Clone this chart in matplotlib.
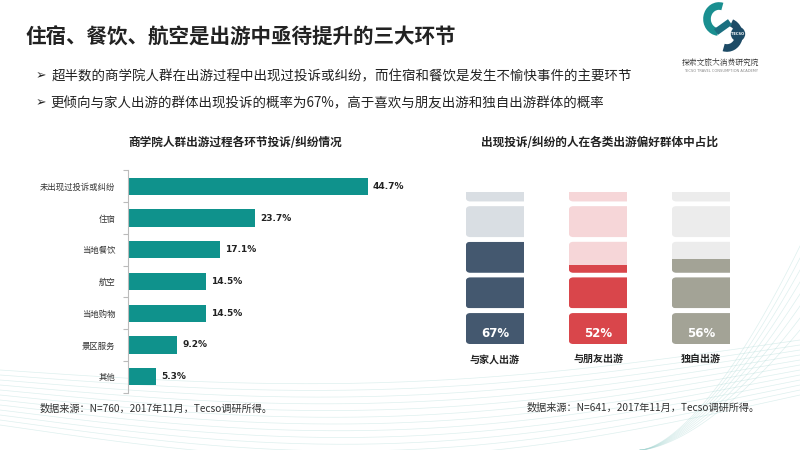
import numpy as np
import matplotlib
matplotlib.use("Agg")
import matplotlib.pyplot as plt
from matplotlib.patches import FancyBboxPatch, Rectangle, Arc, Circle
from matplotlib.transforms import Bbox, TransformedBbox

plt.rcParams['font.family'] = ['Noto Sans CJK SC', 'DejaVu Sans']

# ---------------- data ----------------
title = "住宿、餐饮、航空是出游中亟待提升的三大环节"
bullet1 = "超半数的商学院人群在出游过程中出现过投诉或纠纷，而住宿和餐饮是发生不愉快事件的主要环节"
bullet2 = "更倾向与家人出游的群体出现投诉的概率为67%，高于喜欢与朋友出游和独自出游群体的概率"

left_title = "商学院人群出游过程各环节投诉/纠纷情况"
categories = ["未出现过投诉或纠纷", "住宿", "当地餐饮", "航空", "当地购物", "景区服务", "其他"]
values = [44.7, 23.7, 17.1, 14.5, 14.5, 9.2, 5.3]
left_source = "数据来源：N=760，2017年11月，Tecso调研所得。"

right_title = "出现投诉/纠纷的人在各类出游偏好群体中占比"
groups = ["与家人出游", "与朋友出游", "独自出游"]
group_pct = [67, 52, 56]
group_dark = ["#44586f", "#d9464b", "#a3a396"]
group_light = ["#d9dee3", "#f6d6d8", "#ececec"]
right_source = "数据来源：N=641，2017年11月，Tecso调研所得。"

W, H = 800, 450
fig = plt.figure(figsize=(8, 4.5), dpi=100)
fig.patch.set_facecolor("white")

def fx(px):
    return px / W

def fy(py):
    return 1 - py / H

# ---------------- decorative background curves ----------------
bg = fig.add_axes([0, 0, 1, 1], zorder=-5)
bg.set_xlim(0, W)
bg.set_ylim(H, 0)
bg.axis("off")
t = np.linspace(0, 1, 200)
for k in range(12):
    xs = t * 800
    ys = 370 + k * 5 + 45 * np.sin(np.pi * t) * (0.6 + 0.04 * k) - 30 * t
    bg.plot(xs, ys, color="#9fd3cf", lw=0.5, alpha=0.35)
for k in range(8):
    s = np.linspace(0, 1, 100)
    xs = 640 + 160 * s
    ys = 450 - (s ** 1.6) * (120 + 12 * k)
    bg.plot(xs, ys, color="#9fd3cf", lw=0.5, alpha=0.35)

# ---------------- header ----------------
fig.text(fx(25), fy(37), title, fontsize=14.8, fontweight="bold", color="#222222",
         va="center", ha="left")
fig.text(fx(36), fy(76), "➢", fontsize=9, color="#222222", va="center", ha="left",
         family=["DejaVu Sans"])
fig.text(fx(52), fy(76), bullet1, fontsize=9.7, color="#222222", va="center", ha="left")
fig.text(fx(36), fy(103), "➢", fontsize=9, color="#222222", va="center", ha="left",
         family=["DejaVu Sans"])
fig.text(fx(50), fy(103), bullet2, fontsize=9.7, color="#222222", va="center", ha="left")

# ---------------- logo ----------------
lx0, lx1, ly0, ly1 = 695, 752, 0, 57
lg = fig.add_axes([fx(lx0), fy(ly1), (lx1 - lx0) / W, (ly1 - ly0) / H])
lg.set_xlim(lx0, lx1)
lg.set_ylim(0, ly1 - ly0)
lg.axis("off")
lg.add_patch(Arc((719, 57 - 19), 24, 26, theta1=75, theta2=265, lw=5.5, color="#1a8f90"))
lg.add_patch(Arc((727, 57 - 35), 24, 26, theta1=-105, theta2=70, lw=5.5, color="#1d4b66"))
lg.plot([716, 730], [57 - 32, 57 - 22], color="#1a6f80", lw=5, solid_capstyle="butt")
lg.add_patch(Circle((738, 57 - 34), 6.5, color="#1d4b66"))
lg.text(738, 57 - 34, "TECSO", fontsize=2.6, color="white", ha="center", va="center",
        family=["DejaVu Sans"], fontweight="bold")
fig.text(fx(721), fy(63), "探索文旅大消费研究院", fontsize=5.6, color="#333333",
         ha="center", va="center", family=["Noto Serif CJK SC", "Noto Sans CJK SC"])
fig.text(fx(721), fy(71), "TECSO TRAVEL CONSUMPTION ACADEMY", fontsize=2.6,
         color="#888888", ha="center", va="center", family=["DejaVu Sans"])

# ---------------- left bar chart ----------------
x0_px, x_scale = 127.7, 5.38
xmax = 50
top_px, bot_px = 170.4, 392.6
axL = fig.add_axes([fx(x0_px), fy(bot_px), fx(xmax * x_scale), (bot_px - top_px) / H])
ypos = np.arange(len(categories))
axL.barh(ypos, values, height=0.55, color="#0f928c")
axL.set_xlim(0, xmax)
axL.set_ylim(len(categories) - 0.5, -0.5)
axL.set_yticks(ypos)
axL.set_yticklabels(categories, fontsize=6, color="#333333")
axL.set_yticks(np.arange(len(categories) + 1) - 0.5, minor=True)
axL.tick_params(axis="y", which="major", length=0, pad=9)
axL.tick_params(axis="y", which="minor", length=3.5, color="#bbbbbb", width=0.8)
axL.set_xticks([])
for s in ["top", "right", "bottom"]:
    axL.spines[s].set_visible(False)
axL.spines["left"].set_color("#bbbbbb")
axL.spines["left"].set_linewidth(0.8)
axL.patch.set_alpha(0)
for y, v in zip(ypos, values):
    axL.text(v + 0.9, y, f"{v:.1f}%", fontsize=6.5, fontweight="bold", color="#222222",
             va="center", ha="left", clip_on=False, family=["DejaVu Sans"])
fig.text(fx(235), fy(143), left_title, fontsize=8.4, fontweight="bold",
         color="#222222", ha="center", va="center")
fig.text(fx(40), fy(409), left_source, fontsize=7.3, color="#333333",
         ha="left", va="center")

# ---------------- right block chart ----------------
spacing_px = 103.0
col0_px = 495.0
y0_px = 344.0
y_scale = 1.523  # px per percent
xl = (-0.6, 2.6)
yl = (-25, 110)
axR = fig.add_axes([fx(col0_px + xl[0] * spacing_px), fy(y0_px - yl[0] * y_scale),
                    (xl[1] - xl[0]) * spacing_px / W, (yl[1] - yl[0]) * y_scale / H])
axR.set_xlim(*xl)
axR.set_ylim(*yl)
axR.axis("off")
axR.patch.set_alpha(0)

col_w = 58.6 / spacing_px
block_h = 20.3
gap = 3.1
blocks = []
b = 0.0
while b < 100:
    blocks.append((b, b + block_h))
    b += block_h + gap
r_px = 4.5
r_x = r_px / spacing_px
mut_aspect = (1 / y_scale) / (1 / spacing_px)

for i, (g, pct, dc, lc) in enumerate(zip(groups, group_pct, group_dark, group_light)):
    left = i - col_w / 2
    clipbox = TransformedBbox(Bbox([[left, 0], [left + col_w, 100]]), axR.transData)
    for (lo, hi) in blocks:
        blk = FancyBboxPatch((left, lo), col_w + 3 * r_x, hi - lo,
                             boxstyle=f"round,pad=0,rounding_size={r_x}",
                             mutation_aspect=mut_aspect, fc=lc, ec="none")
        axR.add_patch(blk)
        blk.set_clip_box(clipbox)
        if pct > lo:
            fill = Rectangle((left, lo), col_w, min(hi, pct) - lo, fc=dc, ec="none")
            axR.add_patch(fill)
            fill.set_clip_path(blk)
            fill.set_clip_box(clipbox)
    axR.text(i, 6.6, f"{pct}%", fontsize=8.5, fontweight="bold", color="white",
             ha="center", va="center", family=["DejaVu Sans"])
    axR.text(i, -10, g, fontsize=7.2, fontweight="bold", color="#222222",
             ha="center", va="center")

fig.text(fx(599), fy(142), right_title, fontsize=8.4, fontweight="bold",
         color="#222222", ha="center", va="center")
fig.text(fx(527), fy(408), right_source, fontsize=7.3, color="#333333",
         ha="left", va="center")

fig.savefig("out.png", dpi=100)
